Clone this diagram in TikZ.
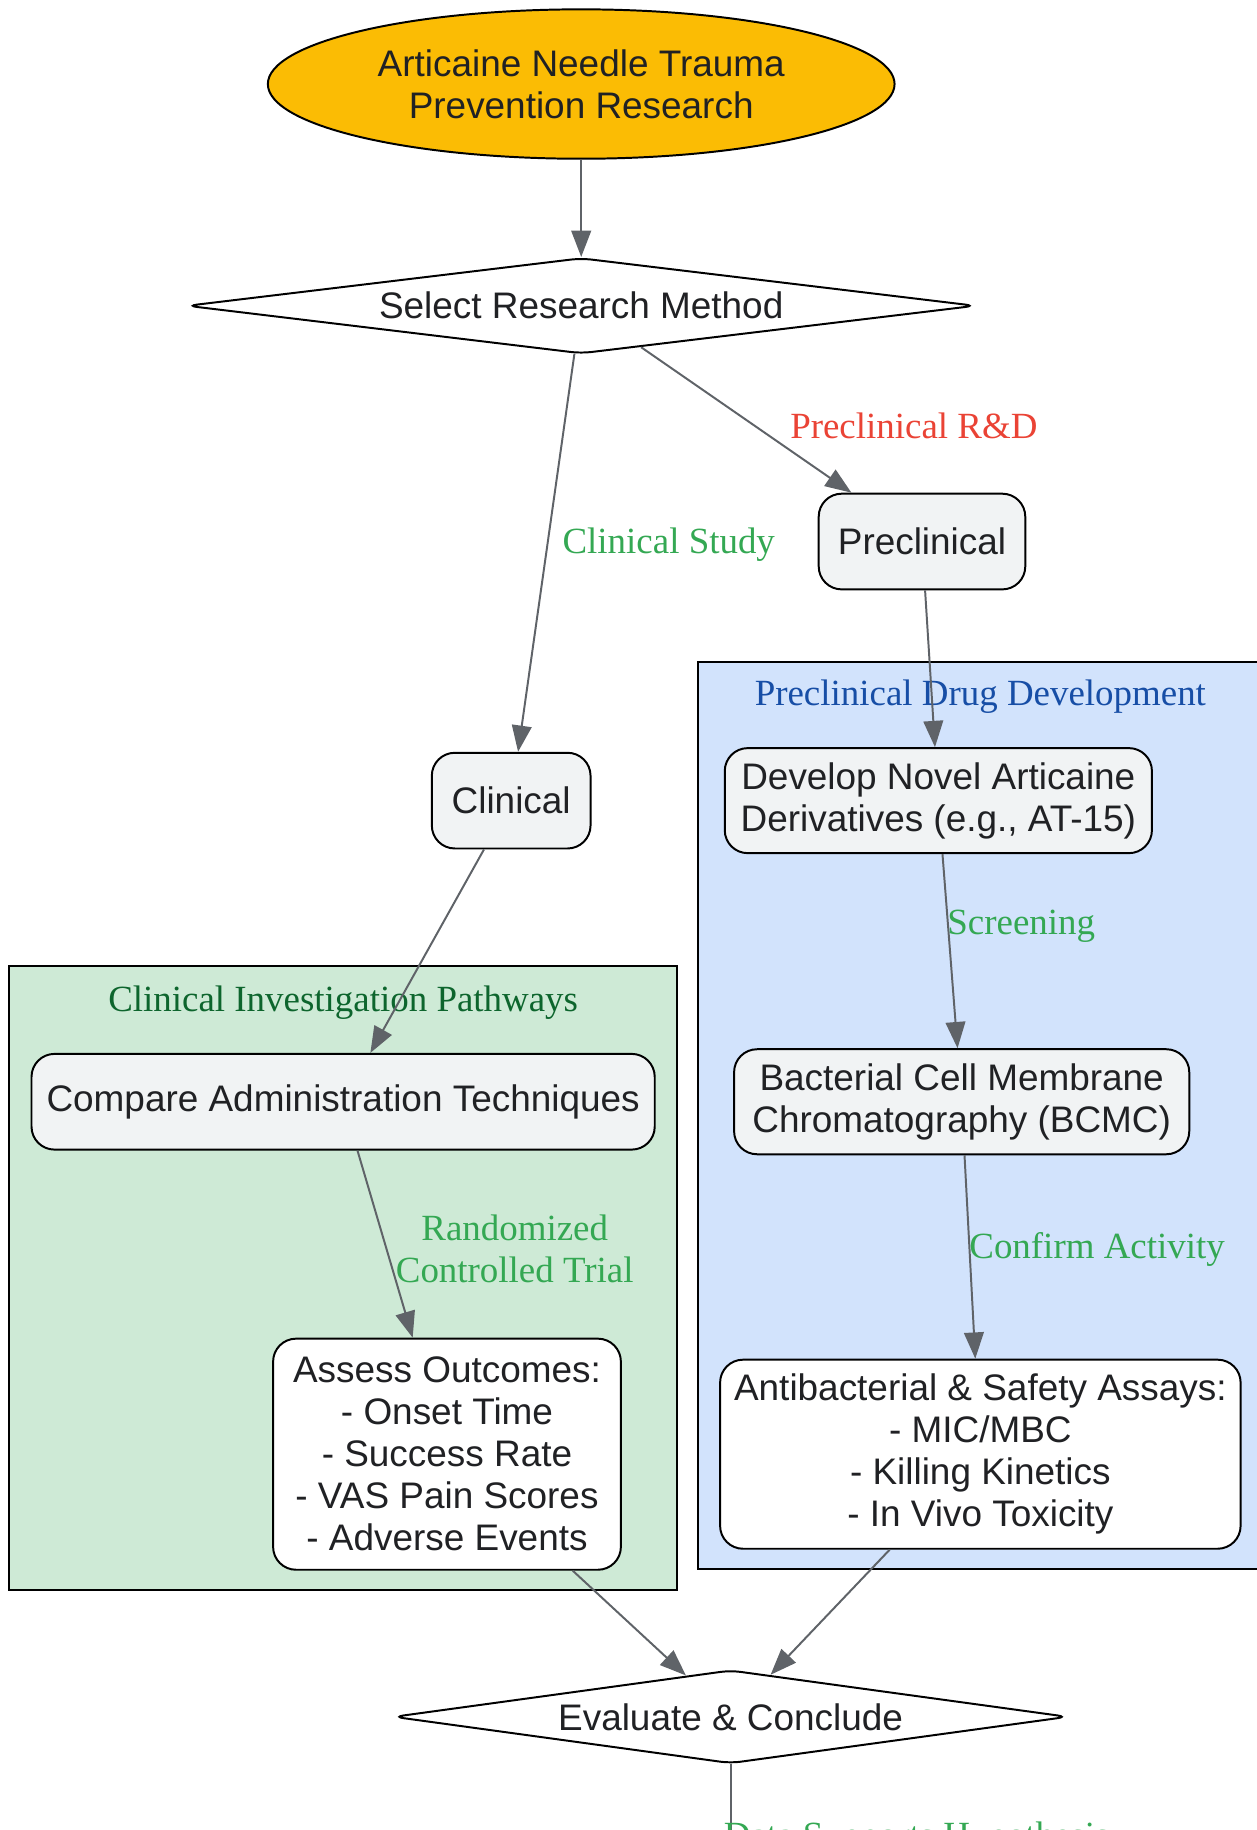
\documentclass[tikz,border=0pt]{standalone}
\usepackage{fontspec}
\setmainfont{Liberation Serif}
\setsansfont{Liberation Sans}
\usetikzlibrary{shapes.geometric,arrows.meta}
\definecolor{txtgray}{HTML}{202124}
\definecolor{boxgray}{HTML}{F1F3F4}
\definecolor{edgegray}{HTML}{5F6368}
\definecolor{amber}{HTML}{FBBC04}
\definecolor{blueback}{HTML}{D2E3FC}
\definecolor{bluetitle}{HTML}{174EA6}
\definecolor{greenback}{HTML}{CEEAD6}
\definecolor{greentitle}{HTML}{0D652D}
\definecolor{lblgreen}{HTML}{34A853}
\definecolor{lblred}{HTML}{EA4335}

\begin{document}
\begin{tikzpicture}[x=0.025cm,y=-0.025cm]
\tikzstyle{box}=[draw=black,line width=1.2pt,rounded corners=14pt,fill=boxgray,text=txtgray,font=\sffamily\fontsize{22.5}{25.6}\selectfont,align=center,inner sep=0pt]
\tikzstyle{decide}=[draw=black,line width=1.2pt,diamond,aspect=8,rounded corners=6pt,fill=white,text=txtgray,font=\sffamily\fontsize{22.5}{25.6}\selectfont,inner sep=0pt]
\tikzstyle{edge}=[draw=edgegray,line width=1.2pt,-{Triangle[length=16pt,width=12pt]}]
\tikzstyle{elabel}=[font=\fontsize{22.5}{26}\selectfont,align=center,inner sep=0pt]
\tikzstyle{cluster}=[draw=black,line width=1.2pt]

\useasboundingbox (0,0) rectangle (1077,1568);
\clip (0,0) rectangle (1077,1568);

\draw[cluster,fill=blueback] (598,567) rectangle (1100,1344);
\node[elabel,text=bluetitle] (pretitle) at (840,597) {Preclinical Drug Development};
\draw[cluster,fill=greenback] (8,828) rectangle (580,1362);
\node[elabel,text=greentitle] (clintitle) at (294,859) {Clinical Investigation Pathways};

\node[draw=black,line width=1.2pt,ellipse,fill=amber,text=txtgray,font=\sffamily\fontsize{22.5}{25.6}\selectfont,align=center,inner sep=0pt,minimum width=537*0.025cm,minimum height=128*0.025cm] (start) at (498,72) {Articaine Needle Trauma\\Prevention Research};
\node[decide,minimum width=676*0.025cm,minimum height=82*0.025cm] (select) at (498,262) {Select Research Method};
\node[box,minimum width=177*0.025cm,minimum height=82*0.025cm] (precl) at (790,464) {Preclinical};
\node[box,minimum width=136*0.025cm,minimum height=82*0.025cm] (clin) at (438,686) {Clinical};
\node[box,minimum width=366*0.025cm,minimum height=90*0.025cm] (develop) at (804,686) {Develop Novel Articaine\\Derivatives (e.g., AT-15)};
\node[box,minimum width=390*0.025cm,minimum height=90*0.025cm] (bcmc) at (824,944) {Bacterial Cell Membrane\\Chromatography (BCMC)};
\node[box,fill=white,minimum width=446*0.025cm,minimum height=162*0.025cm] (assays) at (840,1246) {Antibacterial \& Safety Assays:\\- MIC/MBC\\- Killing Kinetics\\- In Vivo Toxicity};
\node[box,minimum width=534*0.025cm,minimum height=82*0.025cm] (compare) at (294,944) {Compare Administration Techniques};
\node[box,fill=white,minimum width=298*0.025cm,minimum height=198*0.025cm] (assess) at (383,1246) {Assess Outcomes:\\- Onset Time\\- Success Rate\\- VAS Pain Scores\\- Adverse Events};
\node[decide,minimum width=578*0.025cm,minimum height=80*0.025cm] (evaluate) at (626,1471) {Evaluate \& Conclude};
\coordinate (offpage) at (626,1660);

\draw[edge] (start) -- (select);
\draw[edge] (select) -- (clin);
\draw[edge] (select) -- (precl);
\draw[edge] (precl) -- (develop);
\draw[edge] (develop) -- (bcmc);
\draw[edge] (bcmc) -- (assays);
\draw[edge] (clin) -- (compare);
\draw[edge] (compare) -- (assess);
\draw[edge] (assess) -- (evaluate);
\draw[edge] (assays) -- (evaluate);
\draw[edge] (evaluate) -- (offpage);

\node[elabel,text=lblred] (lblpre) at (783,365) {Preclinical R\&D};
\node[elabel,text=lblgreen] (lblclin) at (573,467) {Clinical Study};
\node[elabel,text=lblgreen] (lblscreen) at (875,794) {Screening};
\node[elabel,text=lblgreen] (lblconfirm) at (940,1071) {Confirm Activity};
\node[elabel,text=lblgreen] (lblrct) at (441,1070) {Randomized\\Controlled Trial};
\node[elabel,text=lblgreen,anchor=base west] (lbldata) at (620,1583) {Data Supports Hypothesis};
\end{tikzpicture}
\end{document}
